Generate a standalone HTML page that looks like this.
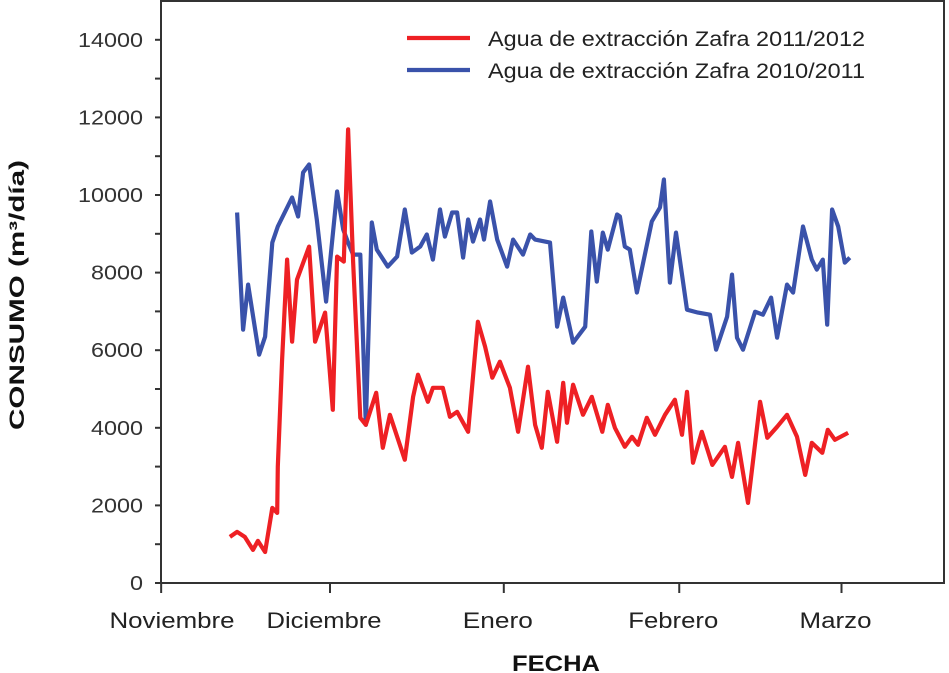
<!DOCTYPE html>
<html><head><meta charset="utf-8"><style>
body{margin:0;background:#fff}
svg{display:block;font-family:"Liberation Sans",sans-serif}
</style></head><body>
<svg id="chart" width="949" height="673" viewBox="0 0 949 673" xmlns="http://www.w3.org/2000/svg"></svg>
<script>
const monthLabels=["Noviembre","Diciembre","Enero","Febrero","Marzo"];
const monthTickDays=[-2.7,28,59.6,91.5,121];
const yTicks=[0,2000,4000,6000,8000,10000,12000,14000];
const redDays=[9.8,11.1,12.5,14.0,14.9,16.2,17.5,18.4,18.5,19.3,20.2,21.1,22.0,24.2,25.3,27.1,28.5,29.3,30.5,31.3,32.2,33.5,34.5,36.4,37.6,38.9,41.6,43.1,44.0,45.8,46.7,48.5,49.8,51.1,53.1,54.9,56.2,57.5,58.9,60.7,62.2,64.0,65.3,66.5,67.6,69.3,70.4,71.1,72.2,74.0,75.6,77.5,78.5,79.8,81.6,82.9,84.0,85.6,87.1,88.9,90.7,92.0,92.9,94.0,95.6,97.5,99.8,101.1,102.2,104.0,106.2,107.5,109.3,111.1,112.9,114.4,115.6,117.5,118.5,119.8,122.2];
const redValues=[1187,1316,1187,852,1084,800,1935,1806,2994,5755,8335,6219,7819,8671,6219,6968,4465,8413,8284,11690,8284,4258,4077,4903,3484,4335,3174,4800,5368,4671,5032,5032,4284,4413,3897,6735,6090,5290,5703,5032,3897,5574,4077,3484,4929,3639,5161,4129,5110,4335,4800,3897,4594,4000,3510,3768,3561,4258,3819,4335,4723,3819,4929,3097,3897,3045,3510,2735,3613,2065,4671,3742,4026,4335,3768,2787,3613,3355,3948,3690,3871];
const blueDays=[11.1,12.2,13.1,15.1,16.2,17.5,18.5,21.1,22.2,23.1,24.2,25.6,27.3,29.3,30.4,31.3,32.2,33.5,34.5,35.6,36.5,38.5,40.2,41.6,42.9,44.4,45.6,46.7,48.0,48.9,50.2,51.1,52.2,53.1,54.0,55.3,56.0,57.1,58.4,60.2,61.3,63.1,64.4,65.3,68.0,69.3,70.4,72.2,74.4,75.5,76.5,77.6,78.5,80.2,80.7,81.6,82.5,83.8,86.5,88.0,88.7,89.8,90.9,92.9,94.9,97.1,98.2,100.2,101.1,102.0,103.1,105.3,106.7,108.2,109.3,111.1,112.2,114.0,115.6,116.5,117.6,118.4,119.3,120.4,121.6,122.5];
const blueValues=[9548,6529,7690,5884,6348,8774,9187,9935,9445,10580,10787,9368,7252,10090,9110,8774,8464,8464,4077,9290,8593,8155,8413,9626,8516,8671,8981,8335,9626,8929,9548,9548,8387,9368,8800,9368,8851,9832,8851,8155,8851,8464,8981,8851,8774,6606,7355,6194,6606,9058,7768,9032,8593,9497,9445,8671,8593,7484,9316,9677,10400,7742,9032,7045,6968,6916,6013,6864,7948,6323,6013,6993,6916,7355,6323,7690,7484,9187,8335,8077,8335,6658,9626,9187,8258,8387];

const NS="http://www.w3.org/2000/svg";
const svg=document.getElementById('chart');
const L=161,R=944,T=1,B=583,YMAX=15000;
const x=d=>176+d*5.5;
const y=v=>B-(v/YMAX)*(B-T);
function mk(tag,attrs,parent){const e=document.createElementNS(NS,tag);for(const k in attrs)e.setAttribute(k,attrs[k]);(parent||svg).appendChild(e);return e;}

const frame=mk('rect',{x:L,y:T,width:R-L,height:B-T,fill:'none',stroke:'#333','stroke-width':2});



for(let v=0;v<=14000;v+=1000){
  const t=mk('line',{x1:L-6,x2:L,y1:y(v),y2:y(v),stroke:'#333','stroke-width':2});
  
  
}
yTicks.forEach(v=>{
  const s=String(v);
  const t=mk('text',{x:143,y:y(v)+7,'text-anchor':'end','font-size':20,fill:'#333',textLength:s.length*13,lengthAdjust:'spacingAndGlyphs'});
  t.textContent=s;
  
  
});
const monthW=[125,115,70,90,72];
monthTickDays.forEach((d,i)=>{
  const t=mk('line',{x1:x(d),x2:x(d),y1:B,y2:B+10,stroke:'#333','stroke-width':2});
  
  
  const lx=i===0?172:x(d)-6;
  const lab=mk('text',{x:lx,y:628,'text-anchor':'middle','font-size':22,fill:'#222',textLength:monthW[i],lengthAdjust:'spacingAndGlyphs'});
  lab.textContent=monthLabels[i];
  
  
});
function series(days,vals,color,name){
  const p=mk('polyline',{points:days.map((d,i)=>x(d).toFixed(1)+','+y(vals[i]).toFixed(1)).join(' '),fill:'none',stroke:color,'stroke-width':4.2,'stroke-linejoin':'round'});
  
  
}
series(blueDays,blueValues,'#3a52aa','series-2010-2011-line');
series(redDays,redValues,'#ee2024','series-2011-2012-line');

const g=mk('g',{});


[['#ee2024','Agua de extracción Zafra 2011/2012',38],['#3a52aa','Agua de extracción Zafra 2010/2011',70]].forEach(([c,txt,yy])=>{
  const l=mk('line',{x1:407,x2:470,y1:yy,y2:yy,stroke:c,'stroke-width':4.2},g);
  
  
  const t=mk('text',{x:488,y:yy+8,'font-size':21,fill:'#222',textLength:377,lengthAdjust:'spacingAndGlyphs'},g);
  t.textContent=txt;
  
  
});
const yt=mk('text',{x:0,y:0,transform:'translate(24,295) rotate(-90)','text-anchor':'middle','font-size':21,'font-weight':'bold',fill:'#111',textLength:270,lengthAdjust:'spacingAndGlyphs'});
yt.textContent='CONSUMO (m³/día)';


const xt=mk('text',{x:556,y:671,'text-anchor':'middle','font-size':22,'font-weight':'bold',fill:'#111',textLength:88,lengthAdjust:'spacingAndGlyphs'});
xt.textContent='FECHA';


</script>
</body></html>
